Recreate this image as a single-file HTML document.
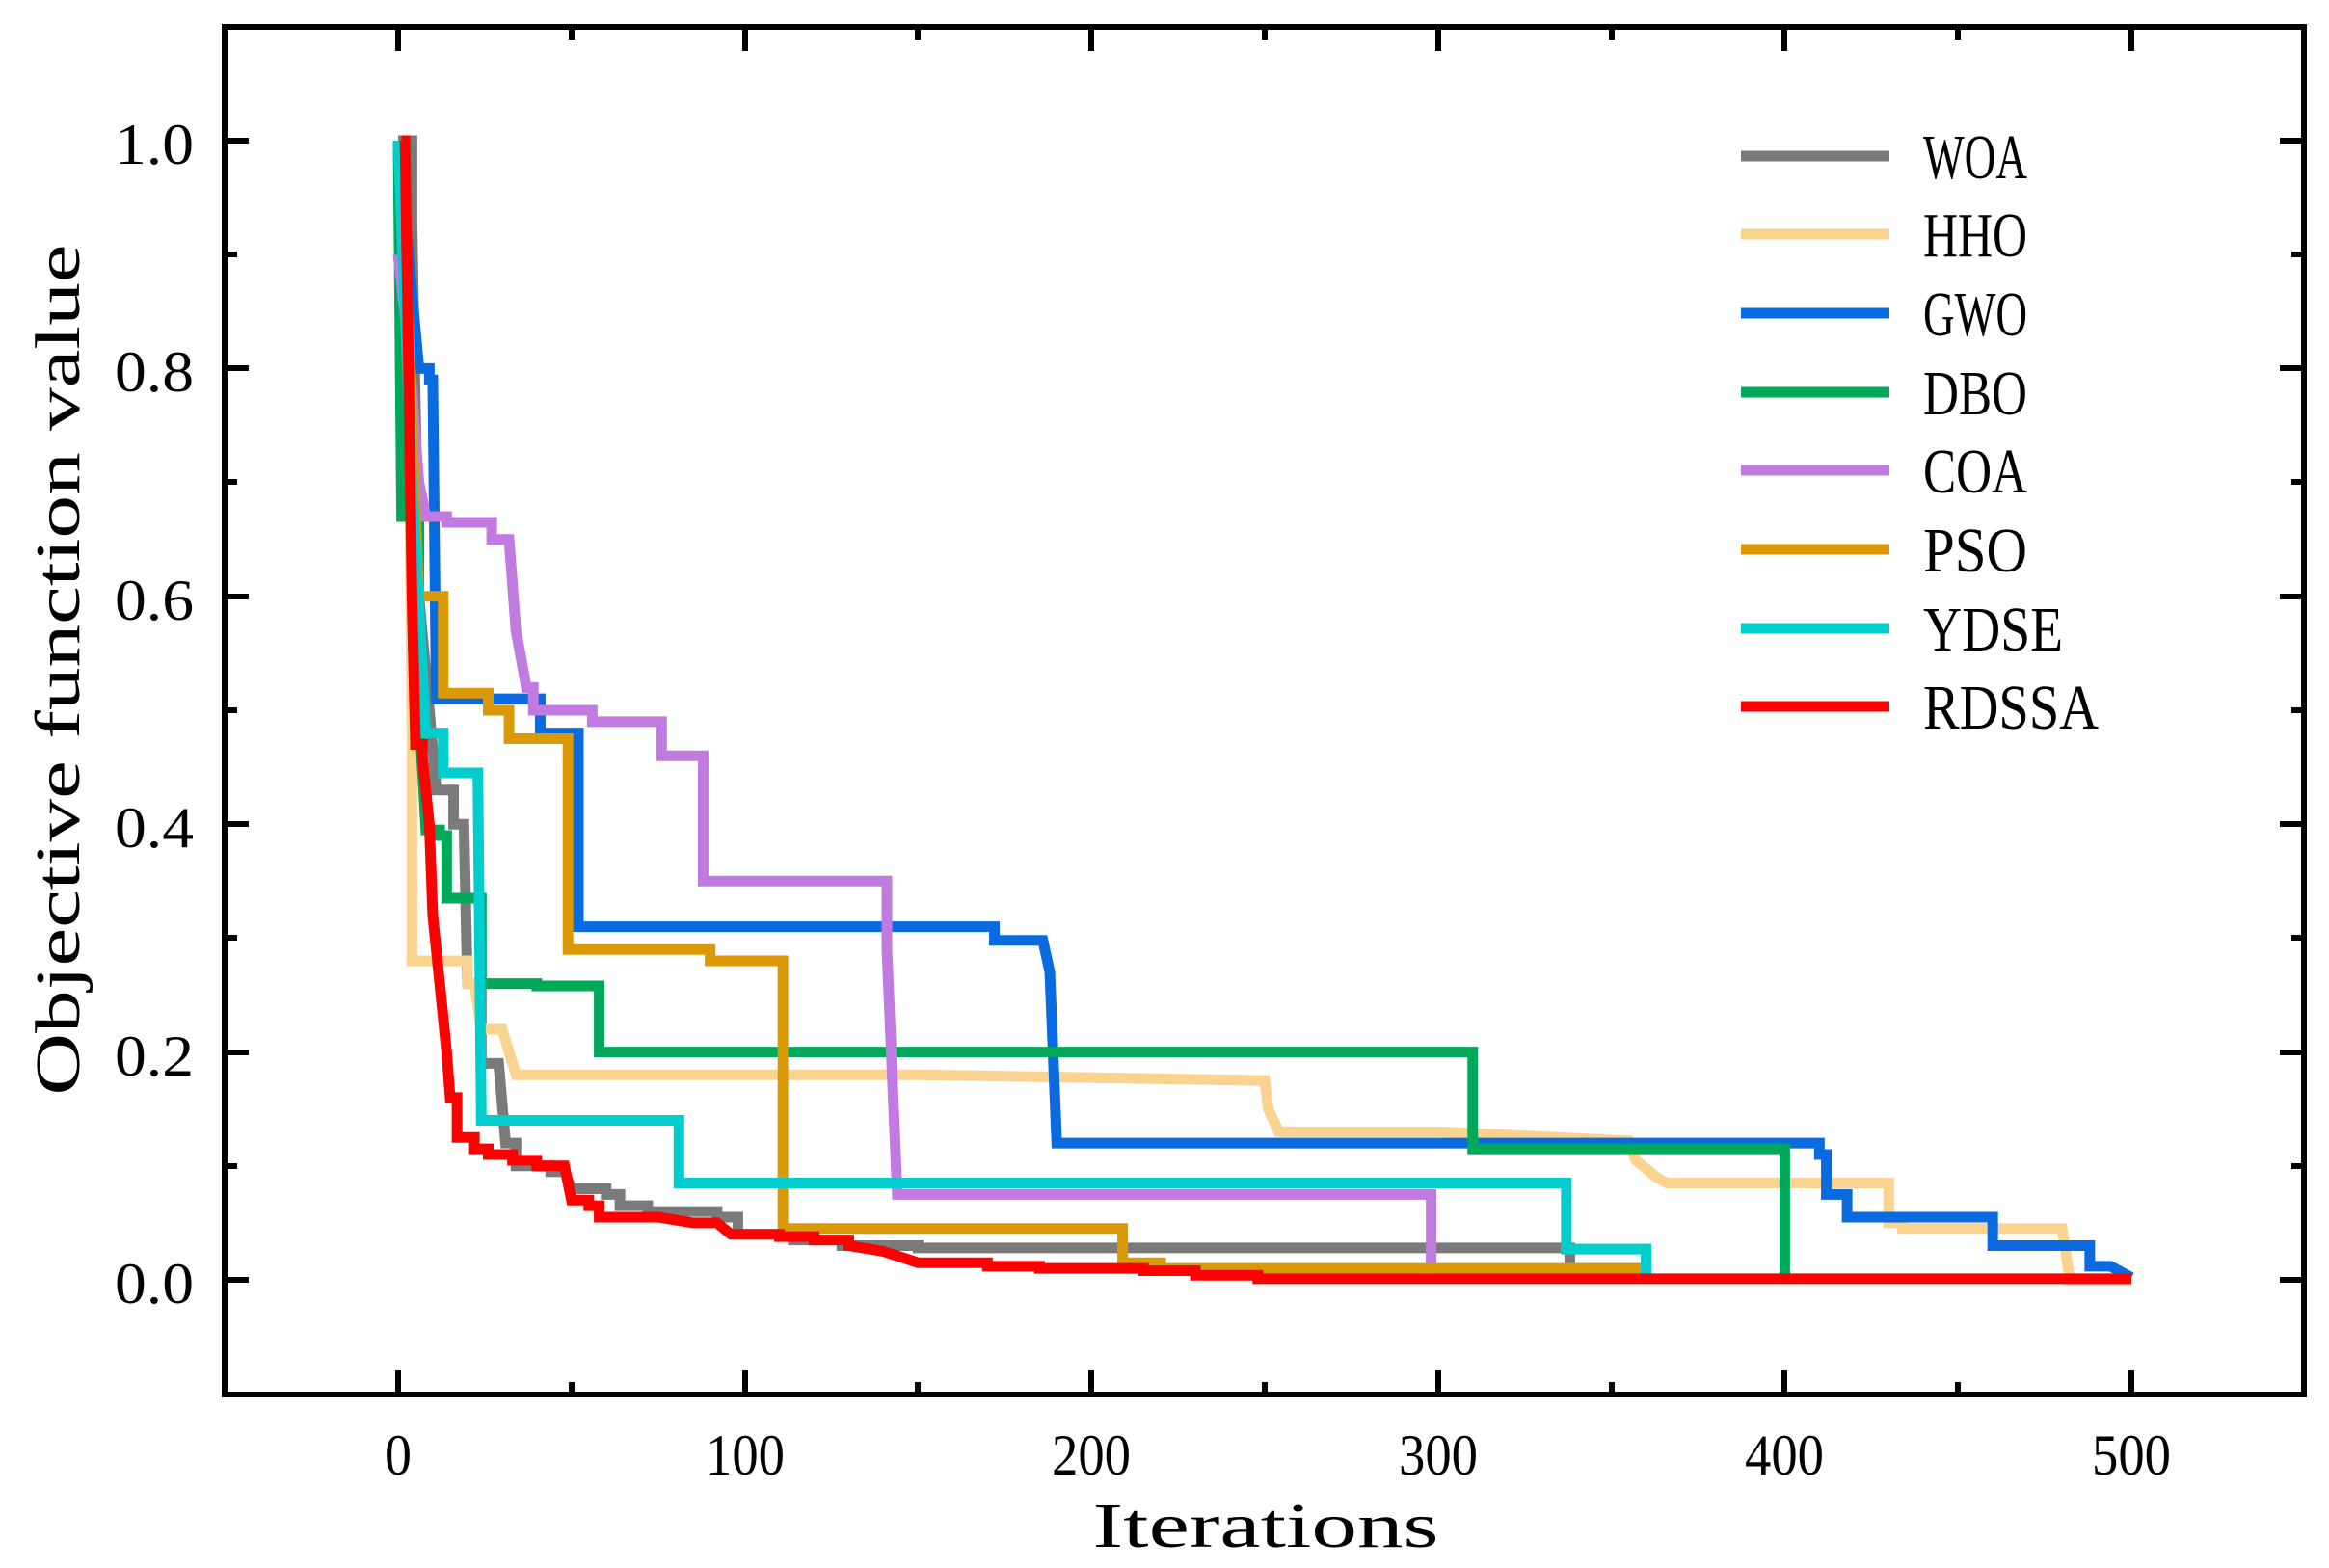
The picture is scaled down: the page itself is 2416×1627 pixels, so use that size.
<!DOCTYPE html>
<html><head><meta charset="utf-8"><style>html,body{margin:0;padding:0;background:#fff}svg{display:block}</style></head>
<body>
<svg width="2416" height="1627" viewBox="0 0 2416 1627" xmlns="http://www.w3.org/2000/svg" font-family="'Liberation Serif', serif">
<rect width="2416" height="1627" fill="#fff"/>
<g transform="matrix(3.596,0,0,-1182,413,1328)" fill="none" stroke-width="11" stroke-linejoin="miter">
<path vector-effect="non-scaling-stroke" stroke="#7a7a7a" d="M0,1 H4 V0.93 L6,0.6 L9,0.5 L11,0.43 H16 V0.40 H19 L20,0.26 H24 V0.19 H29 L31,0.12 H34 V0.10 H44 V0.095 H48 L50,0.08 H60 V0.075 H64 V0.065 H72 V0.06 H92 V0.055 H98 V0.04 H114 V0.035 H128 V0.03 H150 V0.028 H338 V0.01 H360 V0"/>
<path vector-effect="non-scaling-stroke" stroke="#f9d38f" d="M0,1 L3,0.8 L4,0.47 V0.28 H20 V0.26 H22 L24,0.22 H30 L32,0.2 L34,0.18 H150 L250,0.175 L251,0.15 L254,0.13 H300 L355,0.122 L357,0.105 L363,0.09 L366,0.085 H430 V0.05 H434 V0.045 H480 L482,0.005 V0 H500"/>
<path vector-effect="non-scaling-stroke" stroke="#0a6be0" d="M0,1 L6,0.8 H9 V0.79 H10 L11,0.51 H41 V0.48 H52 V0.31 H172 V0.298 H186 L188,0.27 L190,0.12 H410 V0.11 H412 V0.075 H418 V0.055 H460 V0.03 H488 V0.012 H494 L500,0.002"/>
<path vector-effect="non-scaling-stroke" stroke="#00a859" d="M0,1 L1,0.67 H6 V0.5 L8,0.395 H12 V0.39 H14 V0.335 H24 V0.26 H40 V0.258 H58 V0.2 H310 V0.115 H400 V0"/>
<path vector-effect="non-scaling-stroke" stroke="#c07ae0" d="M0,0.9 L3,0.82 L6,0.7 L8,0.67 H14 V0.665 H27 V0.65 H32 L34,0.57 L37,0.52 H39 V0.5 H56 V0.49 H76 V0.46 H88 V0.35 H141 V0.29 L144,0.075 H298 V0.01"/>
<path vector-effect="non-scaling-stroke" stroke="#db9a05" d="M1,1 L4,0.75 L6,0.6 H13 V0.515 H26 V0.5 H32 V0.475 H49 V0.29 H90 V0.28 H111 V0.045 H209 V0.015 H220 V0.01 H360 V0.005"/>
<path vector-effect="non-scaling-stroke" stroke="#00cdcd" d="M0,1 L4,0.7 L8,0.48 H13 V0.445 H23 L24,0.14 H81 V0.085 H337 V0.027 H360 V0"/>
<path vector-effect="non-scaling-stroke" stroke="#ff0000" d="M1,1 H2 L4,0.6 L5,0.47 H7 V0.46 L9,0.4 L10,0.32 L12,0.26 L14,0.2 L15,0.16 H17 V0.125 H22 V0.115 H26 V0.11 H33 V0.105 H40 V0.1 H48 L50,0.07 H55 V0.065 H58 V0.055 H75 L85,0.05 H92 L96,0.04 H110 V0.038 H120 V0.035 H130 V0.03 L140,0.025 L145,0.02 L150,0.015 H170 V0.012 H185 V0.01 H215 V0.008 H230 V0.004 H248 V0.001 H500"/>
</g>
<rect x="233" y="28" width="2157" height="1419" fill="none" stroke="#000" stroke-width="6"/>
<g stroke="#000" stroke-width="6">
<path d="M413,1447 v-25 M413,28 v25 M773,1447 v-25 M773,28 v25 M1132,1447 v-25 M1132,28 v25 M1492,1447 v-25 M1492,28 v25 M1851,1447 v-25 M1851,28 v25 M2211,1447 v-25 M2211,28 v25"/>
<path d="M593,1447 v-13 M593,28 v13 M952,1447 v-13 M952,28 v13 M1312,1447 v-13 M1312,28 v13 M1672,1447 v-13 M1672,28 v13 M2031,1447 v-13 M2031,28 v13"/>
<path d="M233,1328 h25 M2390,1328 h-25 M233,1092 h25 M2390,1092 h-25 M233,855 h25 M2390,855 h-25 M233,619 h25 M2390,619 h-25 M233,382 h25 M2390,382 h-25 M233,146 h25 M2390,146 h-25"/>
<path d="M233,1210 h13 M2390,1210 h-13 M233,973 h13 M2390,973 h-13 M233,737 h13 M2390,737 h-13 M233,500 h13 M2390,500 h-13 M233,264 h13 M2390,264 h-13"/>
</g>
<g font-size="60" fill="#000" text-anchor="end">
<text x="201" y="1352" textLength="82" lengthAdjust="spacingAndGlyphs">0.0</text>
<text x="201" y="1116" textLength="82" lengthAdjust="spacingAndGlyphs">0.2</text>
<text x="201" y="879" textLength="82" lengthAdjust="spacingAndGlyphs">0.4</text>
<text x="201" y="643" textLength="82" lengthAdjust="spacingAndGlyphs">0.6</text>
<text x="201" y="406" textLength="82" lengthAdjust="spacingAndGlyphs">0.8</text>
<text x="201" y="170" textLength="82" lengthAdjust="spacingAndGlyphs">1.0</text>
</g>
<g font-size="60" fill="#000" text-anchor="middle">
<text x="413" y="1530" textLength="28" lengthAdjust="spacingAndGlyphs">0</text>
<text x="773" y="1530" textLength="82" lengthAdjust="spacingAndGlyphs">100</text>
<text x="1132" y="1530" textLength="82" lengthAdjust="spacingAndGlyphs">200</text>
<text x="1492" y="1530" textLength="82" lengthAdjust="spacingAndGlyphs">300</text>
<text x="1851" y="1530" textLength="82" lengthAdjust="spacingAndGlyphs">400</text>
<text x="2211" y="1530" textLength="82" lengthAdjust="spacingAndGlyphs">500</text>
</g>
<text x="1313" y="1605" font-size="66" text-anchor="middle" textLength="359" lengthAdjust="spacingAndGlyphs">Iterations</text>
<text transform="translate(82,695) rotate(-90)" font-size="66" text-anchor="middle" textLength="883" lengthAdjust="spacingAndGlyphs">Objective function value</text>
<g stroke-width="11">
<line x1="1806" y1="162" x2="1960" y2="162" stroke="#7a7a7a"/>
<line x1="1806" y1="243" x2="1960" y2="243" stroke="#f9d38f"/>
<line x1="1806" y1="325" x2="1960" y2="325" stroke="#0a6be0"/>
<line x1="1806" y1="407" x2="1960" y2="407" stroke="#00a859"/>
<line x1="1806" y1="488" x2="1960" y2="488" stroke="#c07ae0"/>
<line x1="1806" y1="570" x2="1960" y2="570" stroke="#db9a05"/>
<line x1="1806" y1="652" x2="1960" y2="652" stroke="#00cdcd"/>
<line x1="1806" y1="733" x2="1960" y2="733" stroke="#ff0000"/>
</g>
<g font-size="66" fill="#000">
<text x="1995" y="185" textLength="108" lengthAdjust="spacingAndGlyphs">WOA</text>
<text x="1995" y="266" textLength="108" lengthAdjust="spacingAndGlyphs">HHO</text>
<text x="1995" y="348" textLength="108" lengthAdjust="spacingAndGlyphs">GWO</text>
<text x="1995" y="430" textLength="108" lengthAdjust="spacingAndGlyphs">DBO</text>
<text x="1995" y="511" textLength="108" lengthAdjust="spacingAndGlyphs">COA</text>
<text x="1995" y="593" textLength="108" lengthAdjust="spacingAndGlyphs">PSO</text>
<text x="1995" y="675" textLength="145" lengthAdjust="spacingAndGlyphs">YDSE</text>
<text x="1995" y="756" textLength="182" lengthAdjust="spacingAndGlyphs">RDSSA</text>
</g>
</svg>
</body></html>
